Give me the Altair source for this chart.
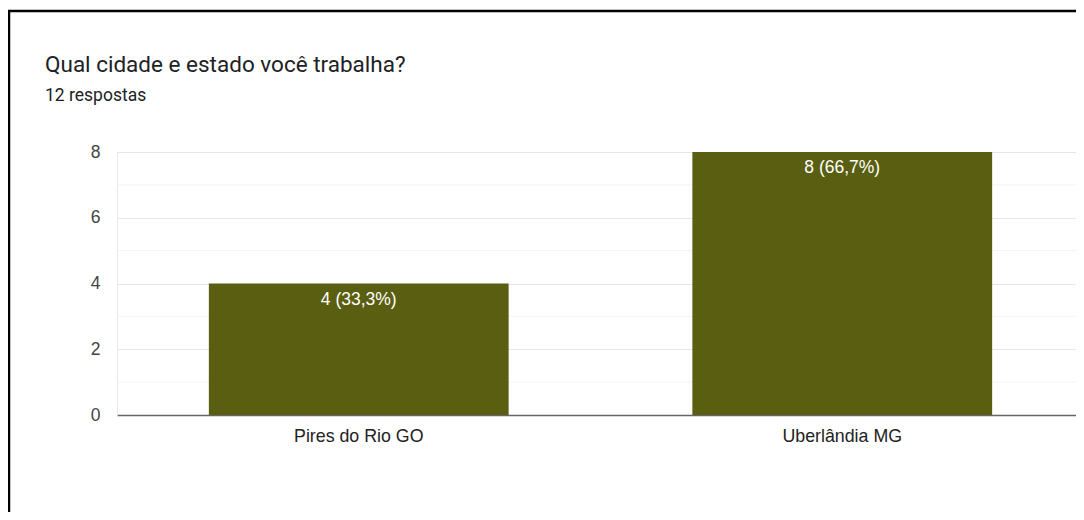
import altair as alt
import pandas as pd

categories = ["Pires do Rio GO", "Uberlândia MG"]
counts = [4, 8]
bar_labels = ["4 (33,3%)", "8 (66,7%)"]
major_ticks = [0, 2, 4, 6, 8]
minor_ticks = [1, 3, 5, 7]
title_text = "Qual cidade e estado você trabalha?"
subtitle_text = "12 respostas"

df = pd.DataFrame({"cat": categories, "n": counts, "lab": bar_labels})
minor_df = pd.DataFrame({"v": minor_ticks})

FONT = "Liberation Sans"
BAR = "#5a5e10"

x_enc = alt.X(
    "cat:N",
    sort=categories,
    title=None,
    scale=alt.Scale(paddingInner=0.38, paddingOuter=0.19, range=[0, 967]),
    axis=alt.Axis(
        labelAngle=0, labelFont=FONT, labelFontSize=17.8, labelColor="#222222",
        labelPadding=12, ticks=False, domain=True, domainColor="#666666",
        domainWidth=1.6, grid=False,
    ),
)
y_scale = alt.Scale(domain=[0, 8], nice=False)
y_axis = alt.Axis(
    values=major_ticks, labelFont=FONT, labelFontSize=17.5, labelColor="#444444",
    labelPadding=17, ticks=False, domain=True, domainColor="#ebebeb",
    gridColor="#e6e6e6", gridWidth=1, title=None,
)

minor = alt.Chart(minor_df).mark_rule(color="#f3f3f3", strokeWidth=1).encode(
    y=alt.Y("v:Q", scale=y_scale, axis=y_axis, title=None)
)

bars = alt.Chart(df).mark_bar(color=BAR).encode(
    x=x_enc,
    y=alt.Y("n:Q", scale=y_scale, title=None, axis=y_axis),
)

texts = alt.Chart(df).mark_text(
    baseline="top", dy=7, color="white", font=FONT, fontSize=17.5
).encode(x=alt.X("cat:N", sort=categories), y=alt.Y("n:Q", scale=y_scale), text="lab:N")

border_top = alt.Chart(alt.Data(values=[{}])).mark_rule(color="#000000", strokeWidth=2.5).encode(
    x=alt.value(-112), x2=alt.value(1000), y=alt.value(-141)
)
border_left = alt.Chart(alt.Data(values=[{}])).mark_rule(color="#000000", strokeWidth=2.5).encode(
    x=alt.value(-108), y=alt.value(-142), y2=alt.value(400)
)

chart = alt.layer(minor, bars, texts, border_top, border_left).properties(
    width=959,
    height=263,
    autosize=alt.AutoSizeParams(type="none"),
    padding={"left": 109, "top": 144, "right": 0, "bottom": 97},
    title=alt.TitleParams(
        text=title_text,
        subtitle=subtitle_text,
        anchor="start",
        frame="group",
        dx=-72,
        offset=-96,
        font="Roboto",
        fontSize=22.5,
        fontWeight="normal",
        color="#202124",
        subtitleFont="Roboto",
        subtitleFontSize=17.5,
        subtitleColor="#202124",
        subtitlePadding=11,
    ),
).configure_view(stroke=None).configure(background="white")

chart.save("out.html", embed_options={"renderer": "svg", "actions": False})
